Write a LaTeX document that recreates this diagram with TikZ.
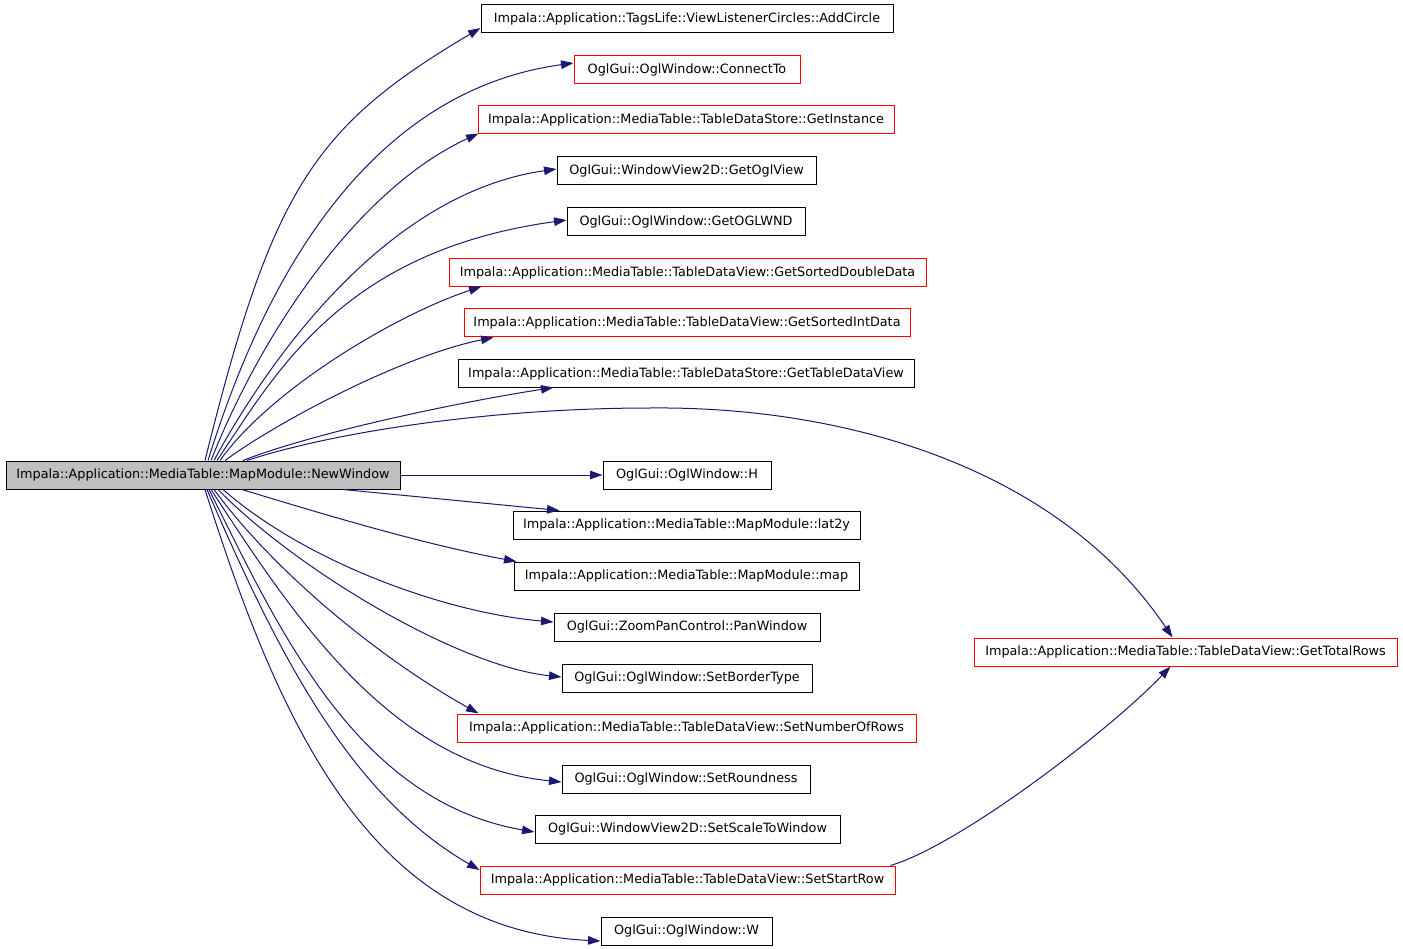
\documentclass[tikz,border=0pt]{standalone}
\usepackage{fontspec}
\setmainfont{DejaVu Sans}
\usetikzlibrary{arrows.meta,calc}
\definecolor{edgeblue}{HTML}{191970}
\definecolor{boxred}{HTML}{FF0000}
\definecolor{boxgray}{HTML}{BFBFBF}
\begin{document}
\begin{tikzpicture}[x=1pt,y=-1pt,
  box/.style={draw=black, line width=1pt, minimum height=28pt, inner sep=0pt,
    font=\fontsize{12.8pt}{15pt}\selectfont, text=black},
  redbox/.style={box, draw=boxred},
  mainbox/.style={box, fill=boxgray},
  edge/.style={draw=edgeblue, line width=1pt, -{Triangle[length=12.5pt,width=8.5pt]}}]
\useasboundingbox[fill=white] (0,0) rectangle (1403,949);

% source
\node[mainbox, minimum width=394pt] (main) at (203,475) {Impala::Application::MediaTable::MapModule::NewWindow};

% targets
\node[box,    minimum width=412pt] (n1)  at (687,19)  {Impala::Application::TagsLife::ViewListenerCircles::AddCircle};
\node[redbox, minimum width=226pt] (n2)  at (687,70)  {OglGui::OglWindow::ConnectTo};
\node[redbox, minimum width=416pt] (n3)  at (686,120) {Impala::Application::MediaTable::TableDataStore::GetInstance};
\node[box,    minimum width=259pt] (n4)  at (686.5,171) {OglGui::WindowView2D::GetOglView};
\node[box,    minimum width=238pt] (n5)  at (686,222) {OglGui::OglWindow::GetOGLWND};
\node[redbox, minimum width=477pt] (n6)  at (687.5,273) {Impala::Application::MediaTable::TableDataView::GetSortedDoubleData};
\node[redbox, minimum width=446pt] (n7)  at (687,323) {Impala::Application::MediaTable::TableDataView::GetSortedIntData};
\node[box,    minimum width=456pt] (n8)  at (686,374) {Impala::Application::MediaTable::TableDataStore::GetTableDataView};
\node[box,    minimum width=168pt] (nH)  at (687,475) {OglGui::OglWindow::H};
\node[box,    minimum width=347pt] (n11) at (686.5,525) {Impala::Application::MediaTable::MapModule::lat2y};
\node[box,    minimum width=345pt] (n12) at (686.5,576) {Impala::Application::MediaTable::MapModule::map};
\node[box,    minimum width=266pt] (n13) at (687,627) {OglGui::ZoomPanControl::PanWindow};
\node[box,    minimum width=250pt] (n14) at (687,678) {OglGui::OglWindow::SetBorderType};
\node[redbox, minimum width=459pt] (n15) at (686.5,728) {Impala::Application::MediaTable::TableDataView::SetNumberOfRows};
\node[box,    minimum width=248pt] (n16) at (686,779) {OglGui::OglWindow::SetRoundness};
\node[box,    minimum width=305pt] (n17) at (687.5,829) {OglGui::WindowView2D::SetScaleToWindow};
\node[redbox, minimum width=415pt] (n18) at (687.5,880) {Impala::Application::MediaTable::TableDataView::SetStartRow};
\node[box,    minimum width=171pt] (n19) at (686.5,931) {OglGui::OglWindow::W};
\node[redbox, minimum width=423pt] (n20) at (1185.5,652) {Impala::Application::MediaTable::TableDataView::GetTotalRows};

% upper fan
\draw[edge] ($(main.north)+(2,0)$)  .. controls (272,190) and (313,127) .. ($(n1.west)+(0,9)$);
\draw[edge] ($(main.north)+(5,0)$)  .. controls (247,336) and (340,95)  .. ($(n2.west)+(0,-7)$);
\draw[edge] ($(main.north)+(8,0)$)  .. controls (263,329) and (360,188) .. ($(n3.south west)+(1,-1)$);
\draw[edge] ($(main.north)+(11,0)$) .. controls (263,370) and (381,194) .. ($(n4.west)+(0,-2)$);
\draw[edge] ($(main.north)+(14,0)$) .. controls (276,373) and (342,251) .. ($(n5.west)+(0,-2)$);
\draw[edge] ($(main.north)+(17,0)$) .. controls (270,390) and (395,315) .. ($(n6.south west)+(33,-1)$);
\draw[edge] ($(main.north)+(22,0)$) .. controls (280,420) and (405,355) .. ($(n7.south west)+(30,0)$);
\draw[edge] ($(main.north)+(40,0)$) .. controls (313,433) and (454,403) .. ($(n8.south west)+(96,-1)$);
\draw[edge] ($(main.north)+(44,0)$) .. controls (340,430) and (500,408) .. (650,408)
            .. controls (850,406) and (1060,470) .. ($(n20.north)+(-13,0)$);

% straight
\draw[edge] (main.east) -- (nH.west);
\draw[edge] ($(main.south)+(140,0)$) -- ($(n11.north west)+(47,0)$);

% lower fan
\draw[edge] ($(main.south)+(39,0)$) .. controls (332,517) and (427,545) .. ($(n12.north west)+(3,0)$);
\draw[edge] ($(main.south)+(20,0)$) .. controls (307,563) and (447,613) .. ($(n13.west)+(0,-5)$);
\draw[edge] ($(main.south)+(15,0)$) .. controls (296,569) and (457,666) .. ($(n14.west)+(0,-1)$);
\draw[edge] ($(main.south)+(11,0)$) .. controls (273,570) and (376,656) .. ($(n15.north west)+(22,0)$);
\draw[edge] ($(main.south)+(8,0)$)  .. controls (296,620) and (392,765) .. ($(n16.west)+(0,3)$);
\draw[edge] ($(main.south)+(6,0)$)  .. controls (277,625) and (355,801) .. ($(n17.west)+(0,3)$);
\draw[edge] ($(main.south)+(4,0)$)  .. controls (277,651) and (348,794) .. ($(n18.west)+(0,-10)$);
\draw[edge] ($(main.south)+(2,0)$)  .. controls (280,726) and (371,930) .. ($(n19.west)+(0,10)$);

% second level
\draw[edge] ($(n18.north east)+(-5,0)$) .. controls (960,845) and (1110,730) .. ($(n20.south)+(-15,0)$);
\end{tikzpicture}
\end{document}
